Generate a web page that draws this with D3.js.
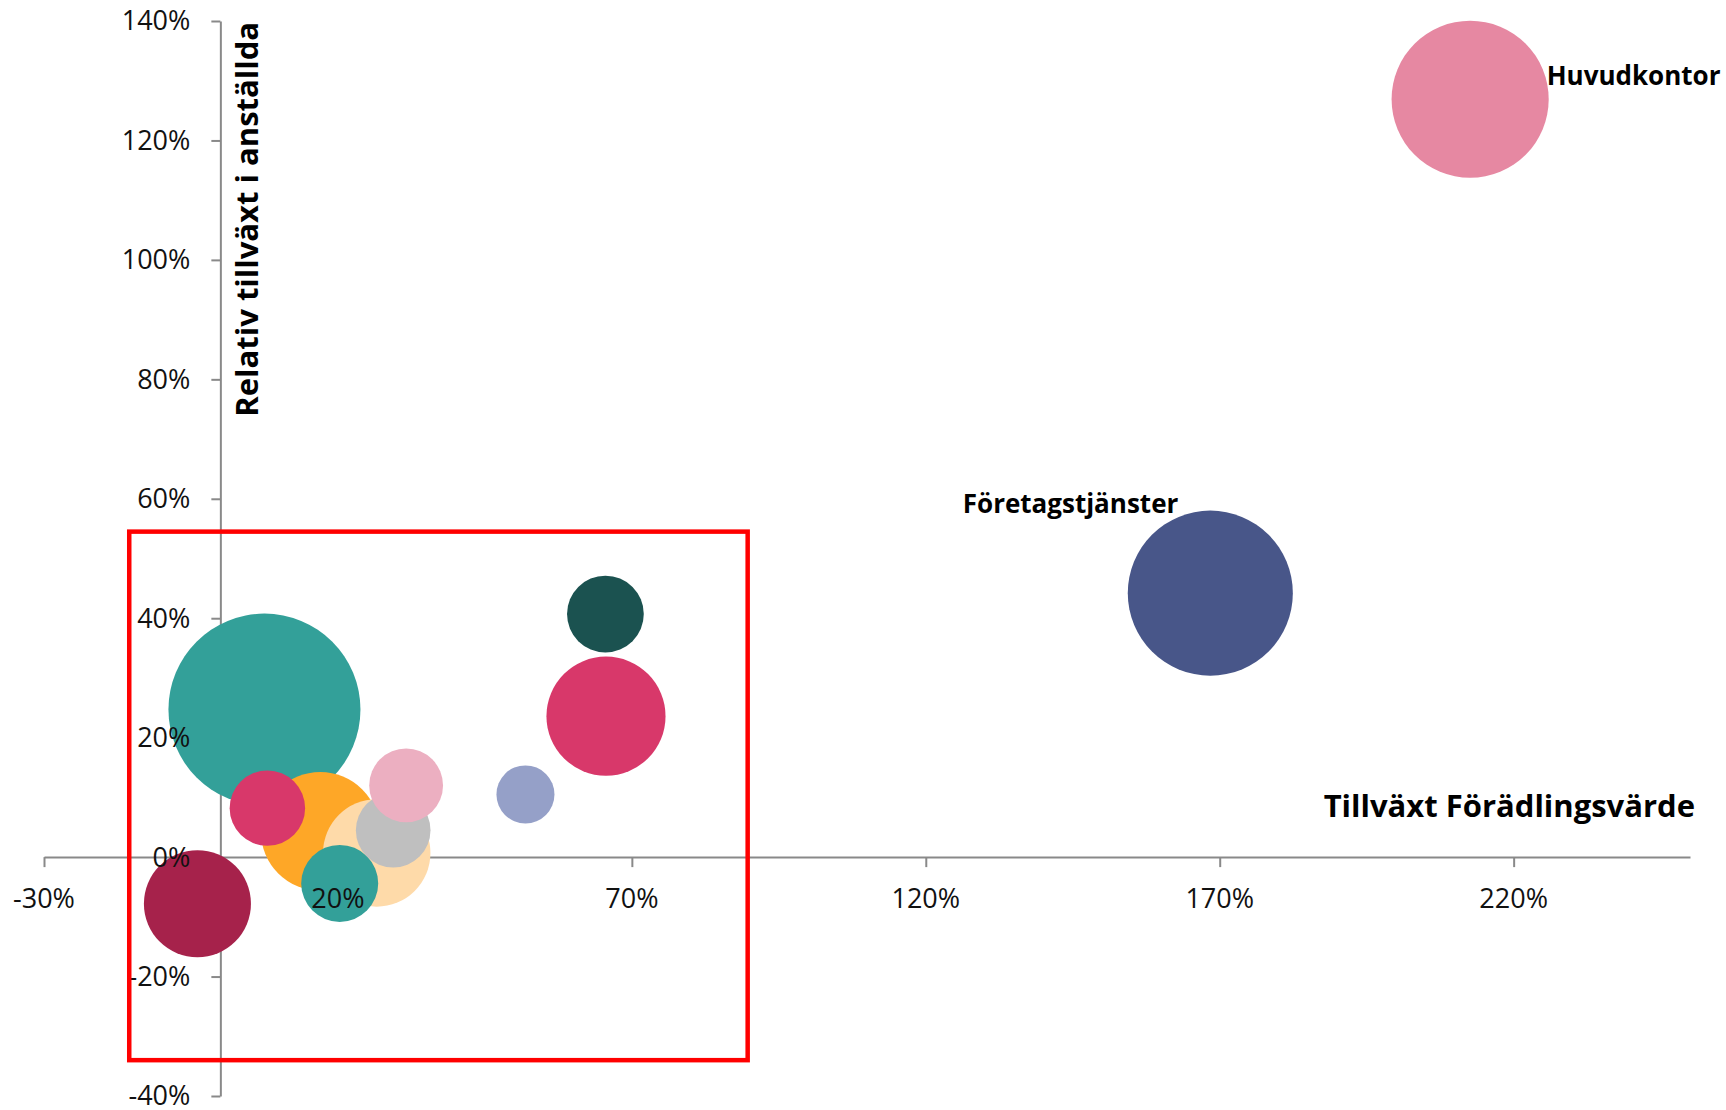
<!DOCTYPE html>
<html>
<head>
<meta charset="utf-8">
<script src="https://cdn.jsdelivr.net/npm/d3@7"></script>
<style>
  body { margin: 0; background: #fff; }
  svg { display: block; font-family: "Open Sans", "Noto Sans", sans-serif; }
</style>
</head>
<body>
<svg></svg>
<script>
// bubble data: x = growth in value added, y = relative growth in employees
let names = ["", "Huvudkontor", "Företagstjänster", "", "", "", "", "", "", "", "", "", ""];
let xValues = [0.075, 2.126, 1.684, 0.656, 0.170, 0.266, -0.039, 0.203, 0.655, 0.080, 0.294, 0.316, 0.519];
let yValues = [0.247, 1.269, 0.442, 0.236, 0.043, 0.007, -0.078, -0.044, 0.407, 0.082, 0.045, 0.120, 0.105];
let sizes = [92, 61.6, 68, 35.4, 35.2, 28.8, 28.6, 14.8, 14.7, 14.2, 13.9, 13.6, 8.4];
let colors = ["#33a099", "#e688a2", "#485689", "#d8386a", "#fea727", "#fedaa9", "#a6224b",
              "#33a099", "#1b5250", "#d8386a", "#bfbfbf", "#ecafc1", "#95a0c8"];

let xTicks = [-0.3, 0.2, 0.7, 1.2, 1.7, 2.2];
let yTicks = [-0.4, -0.2, 0, 0.2, 0.4, 0.6, 0.8, 1.0, 1.2, 1.4];

// highlighted area (red frame)
let boxX = [-0.155, 0.897];
let boxY = [-0.34, 0.545];

let width = 1726;
let height = 1110;

let svg = d3.select("svg")
    .attr("width", width)
    .attr("height", height);

let xScale = d3.scaleLinear().domain([-0.3, 2.5]).range([44, 1690]);
let yScale = d3.scaleLinear().domain([-0.4, 1.4]).range([1096, 21]);
let rScale = d3.scaleSqrt().domain([0, 92]).range([0, 96]);

let pct = (d) => Math.round(d * 100) + "%";
let axisColor = "#898989";

// axes lines first, bubbles cover them
let xAxis = d3.axisBottom(xScale)
    .tickValues(xTicks)
    .tickFormat(pct)
    .tickSize(10)
    .tickSizeOuter(0)
    .tickPadding(22);

let yAxis = d3.axisLeft(yScale)
    .tickValues(yTicks)
    .tickFormat(pct)
    .tickSize(9)
    .tickSizeOuter(0)
    .tickPadding(21);

let gx = svg.append("g")
    .attr("transform", "translate(0," + yScale(0) + ")")
    .call(xAxis);

let gy = svg.append("g")
    .attr("transform", "translate(" + xScale(0) + ",0)")
    .call(yAxis);

[gx, gy].forEach((g) => {
    g.select(".domain").attr("stroke", axisColor).attr("stroke-width", 2);
    g.selectAll(".tick line").attr("stroke", axisColor).attr("stroke-width", 2);
    g.selectAll(".tick text").attr("font-size", 27).attr("fill", "#111")
        .attr("font-family", "'Open Sans', sans-serif");
});

let bubbles = names.map((n, i) => ({
    name: n, x: xValues[i], y: yValues[i], size: sizes[i], color: colors[i]
}));
// larger bubbles behind smaller ones
bubbles.sort((a, b) => b.size - a.size);

svg.append("g")
    .selectAll("circle")
    .data(bubbles)
    .enter()
    .append("circle")
    .attr("cx", (d) => xScale(d.x))
    .attr("cy", (d) => yScale(d.y))
    .attr("r", (d) => rScale(d.size))
    .attr("fill", (d) => d.color);

// tick labels sit above the bubbles
let tickLabels = svg.append("g");
gx.selectAll(".tick").each(function (d) {
    tickLabels.node().appendChild(d3.select(this).select("text").remove().node());
    tickLabels.select("text:last-child")
        .attr("x", xScale(d))
        .attr("y", yScale(0) + 32)
        .attr("text-anchor", "middle");
});
gy.selectAll(".tick").each(function (d) {
    tickLabels.node().appendChild(d3.select(this).select("text").remove().node());
    tickLabels.select("text:last-child")
        .attr("x", xScale(0) - 30)
        .attr("y", yScale(d))
        .attr("dy", "0.35em")
        .attr("text-anchor", "end");
});

// red frame
svg.append("rect")
    .attr("x", xScale(boxX[0]))
    .attr("y", yScale(boxY[1]))
    .attr("width", xScale(boxX[1]) - xScale(boxX[0]))
    .attr("height", yScale(boxY[0]) - yScale(boxY[1]))
    .attr("fill", "none")
    .attr("stroke", "#ff0000")
    .attr("stroke-width", 4.5);

// bubble labels
bubbles.filter((d) => d.name !== "").forEach((d) => {
    let r = rScale(d.size);
    let right = d.name === "Huvudkontor";
    svg.append("text")
        .attr("x", right ? xScale(d.x) + r - 2 : xScale(d.x) - 32)
        .attr("y", right ? yScale(d.y) - 23 : yScale(d.y) - 89)
        .attr("dy", "0.35em")
        .attr("text-anchor", right ? "start" : "end")
        .attr("font-size", 26)
        .attr("font-weight", "bold")
        .attr("fill", "#000")
        .text(d.name);
});

// axis titles
svg.append("text")
    .attr("x", 1695)
    .attr("y", 806)
    .attr("dy", "0.35em")
    .attr("text-anchor", "end")
    .attr("font-size", 31)
    .attr("font-weight", "bold")
    .text("Tillväxt Förädlingsvärde");

svg.append("text")
    .attr("transform", "translate(247,22) rotate(-90)")
    .attr("dy", "0.35em")
    .attr("text-anchor", "end")
    .attr("font-size", 31)
    .attr("font-weight", "bold")
    .text("Relativ tillväxt i anställda");
</script>
</body>
</html>
